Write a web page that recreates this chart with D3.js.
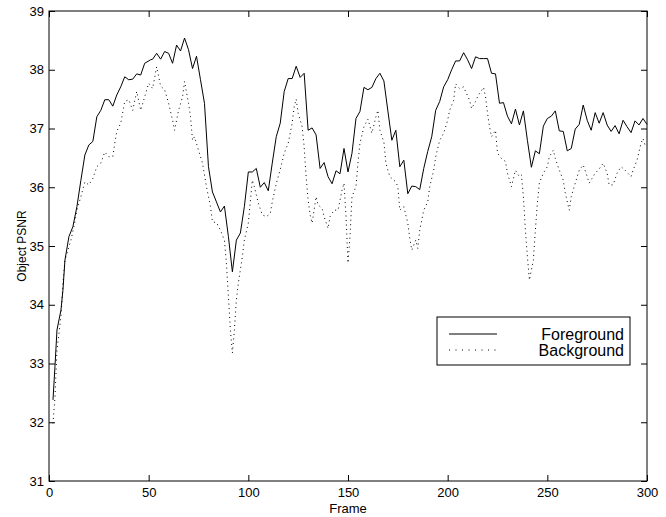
<!DOCTYPE html>
<html>
<head>
<meta charset="utf-8">
<script src="https://cdn.jsdelivr.net/npm/d3@7"></script>
<style>
  body { margin: 0; background: #fff; }
  text { font-family: "Liberation Sans", Arial, Helvetica, sans-serif; }
</style>
</head>
<body>
<svg width="666" height="517"></svg>
<script>
// Foreground PSNR per frame
const fgFrames = [2,3,4,6,7,8,10,12,14,16,18,20,22,24,26,28,30,32,34,36,38,40,42,44,46,48,51,52,54,56,58,60,62,64,66,68,70,72,74,76,78,80,82,84,86,88,90,92,94,96,98,100,102,104,106,108,110,112,114,116,118,120,122,124,126,128,130,132,134,136,138,140,142,144,146,148,150,152,154,156,158,160,162,164,166,168,170,172,174,176,178,180,182,184,186,188,190,192,194,196,198,200,202,204,206,208,210,212,214,216,218,220,222,224,226,228,230,232,234,236,238,240,242,244,246,248,250,252,254,256,258,260,262,264,266,268,270,272,274,276,278,280,282,284,286,288,290,292,294,296,298,300];
const fgValues = [32.38,32.95,33.57,33.91,34.25,34.76,35.16,35.33,35.67,36.12,36.55,36.72,36.78,37.2,37.31,37.49,37.49,37.38,37.57,37.71,37.88,37.83,37.84,37.93,37.91,38.11,38.17,38.18,38.28,38.18,38.31,38.28,38.11,38.42,38.32,38.54,38.34,38.02,38.23,37.83,37.43,36.35,35.92,35.75,35.58,35.68,35.16,34.56,35.1,35.22,35.67,36.26,36.26,36.32,36.0,36.08,35.94,36.41,36.86,37.09,37.63,37.85,37.85,38.06,37.87,37.94,36.97,37.01,36.89,36.32,36.42,36.18,36.06,36.28,36.23,36.66,36.26,36.58,37.17,37.29,37.7,37.66,37.7,37.85,37.94,37.81,37.3,36.8,36.97,36.35,36.46,35.89,36.02,36.01,35.96,36.32,36.61,36.86,37.31,37.46,37.71,37.83,38.0,38.15,38.15,38.29,38.17,38.02,38.22,38.19,38.19,38.19,37.94,37.93,37.43,37.44,37.21,37.08,37.33,37.06,37.3,36.8,36.34,36.62,36.57,37.04,37.17,37.21,37.3,36.96,36.95,36.62,36.66,36.99,37.07,37.4,37.14,36.97,37.27,37.09,37.27,37.06,36.95,37.05,36.91,37.14,37.03,36.93,37.13,37.06,37.17,37.07];

// Background PSNR per frame
const bgFrames = [2,3,4,6,7,8,11,13,14,16,18,20,22,24,26,28,30,32,33,34,36,38,40,42,44,46,48,50,52,54,56,58,60,62,63,65,67,68,70,71,72,73,75,77,79,81,82,84,86,88,89,90,91,92,93,94,95,97,98,100,102,103,105,107,109,111,112,114,116,118,120,122,123,124,125,127,128,129,130,131,132,134,135,137,138,140,141,143,145,147,148,149,150,151,152,154,155,156,158,160,162,164,165,166,168,169,171,174,175,176,178,180,181,182,184,185,186,188,190,191,193,194,196,198,200,201,203,204,206,208,209,211,212,214,215,218,219,220,221,222,224,225,227,229,230,232,234,236,237,238,239,240,241,243,244,245,246,248,250,251,253,254,256,258,259,261,262,264,266,268,270,271,274,276,278,280,281,283,285,287,289,292,293,295,297,298,299];
const bgValues = [31.98,32.43,33.23,33.8,34.37,34.76,35.1,35.41,35.61,35.84,36.09,36.04,36.15,36.35,36.41,36.6,36.52,36.52,36.75,36.95,37.09,37.46,37.49,37.31,37.63,37.31,37.54,37.77,37.68,38.05,37.72,37.66,37.43,37.14,36.97,37.31,37.54,37.8,37.43,37.2,36.8,36.86,36.63,36.41,36.01,35.67,35.41,35.4,35.27,35.1,34.71,34.14,33.57,33.18,33.57,34.08,34.37,34.82,35.1,35.39,36.12,36.01,35.73,35.53,35.5,35.55,35.75,36.06,36.3,36.58,36.75,37.09,37.37,37.5,37.26,37.03,36.69,36.18,35.78,35.53,35.39,35.84,35.7,35.64,35.5,35.3,35.5,35.61,35.61,35.95,36.07,35.5,34.71,35.16,35.84,36.01,36.41,36.75,37.03,37.16,36.92,37.2,37.31,36.97,36.77,36.41,36.18,36.09,36.01,35.61,35.67,35.39,35.13,34.93,35.1,34.96,35.27,35.61,35.75,36.01,36.29,36.52,36.8,36.92,37.14,37.31,37.48,37.76,37.68,37.71,37.63,37.48,37.34,37.46,37.54,37.7,37.54,37.26,37.03,36.86,36.97,36.58,36.49,36.44,36.24,36.01,36.29,36.18,36.21,35.84,35.27,34.82,34.42,34.76,35.27,35.73,36.07,36.24,36.35,36.52,36.63,36.49,36.29,36.12,35.9,35.61,35.84,36.07,36.29,36.38,36.18,36.07,36.24,36.31,36.41,36.24,36.04,36.04,36.24,36.35,36.29,36.18,36.29,36.46,36.75,36.83,36.72];

const xTicks = [0,50,100,150,200,250,300];
const yTicks = [31,32,33,34,35,36,37,38,39];
const seriesNames = ["Foreground", "Background"];

const svg = d3.select("svg");
const plotL = 49, plotR = 647, plotT = 11, plotB = 481;

const x = d3.scaleLinear().domain([0, 300]).range([plotL, plotR]);
const y = d3.scaleLinear().domain([31, 39]).range([plotB, plotT]);

// axes with inward ticks
const gx = svg.append("g").attr("transform", `translate(0,${plotB})`)
  .call(d3.axisBottom(x).tickValues(xTicks).tickSize(-6).tickPadding(7));
const gy = svg.append("g").attr("transform", `translate(${plotL},0)`)
  .call(d3.axisLeft(y).tickValues(yTicks).tickSize(-6).tickPadding(5));
const gt = svg.append("g").attr("transform", `translate(0,${plotT})`)
  .call(d3.axisTop(x).tickValues(xTicks).tickSize(-6).tickFormat(""));
const gr = svg.append("g").attr("transform", `translate(${plotR},0)`)
  .call(d3.axisRight(y).tickValues(yTicks).tickSize(-6).tickFormat(""));

[gx, gy, gt, gr].forEach(g => {
  g.select(".domain").remove();
  g.selectAll("line").attr("stroke", "#000");
  g.selectAll("text").attr("font-size", 13).attr("fill", "#000")
    .style("font-family", '"Liberation Sans", Arial, sans-serif');
});

// frame box
svg.append("rect")
  .attr("x", plotL).attr("y", plotT)
  .attr("width", plotR - plotL).attr("height", plotB - plotT)
  .attr("fill", "none").attr("stroke", "#000").attr("stroke-width", 1);

// lines
const fgLine = d3.line().x((d, i) => x(fgFrames[i])).y(d => y(d));
const bgLine = d3.line().x((d, i) => x(bgFrames[i])).y(d => y(d));

svg.append("path").datum(bgValues)
  .attr("d", bgLine)
  .attr("fill", "none").attr("stroke", "#000")
  .attr("stroke-width", 1).attr("stroke-dasharray", "1,3.5");

svg.append("path").datum(fgValues)
  .attr("d", fgLine)
  .attr("fill", "none").attr("stroke", "#000").attr("stroke-width", 1);

// axis labels
svg.append("text")
  .attr("x", (plotL + plotR) / 2).attr("y", 513)
  .attr("text-anchor", "middle").attr("font-size", 13)
  .text("Frame");

svg.append("text")
  .attr("transform", `translate(26,${(plotT + plotB) / 2}) rotate(-90)`)
  .attr("text-anchor", "middle").attr("font-size", 12)
  .text("Object PSNR");

// legend
const legend = svg.append("g");
legend.append("rect")
  .attr("x", 437).attr("y", 317).attr("width", 193).attr("height", 48)
  .attr("fill", "#fff").attr("stroke", "#000");

seriesNames.forEach((name, i) => {
  const ly = 334 + i * 16;
  legend.append("line")
    .attr("x1", 449).attr("x2", 497).attr("y1", ly).attr("y2", ly)
    .attr("stroke", "#000").attr("stroke-width", 1)
    .attr("stroke-dasharray", i === 1 ? "1,5.5" : null);
  legend.append("text")
    .attr("x", 624).attr("y", ly + 6)
    .attr("text-anchor", "end").attr("font-size", 16)
    .text(name);
});
</script>
</body>
</html>
